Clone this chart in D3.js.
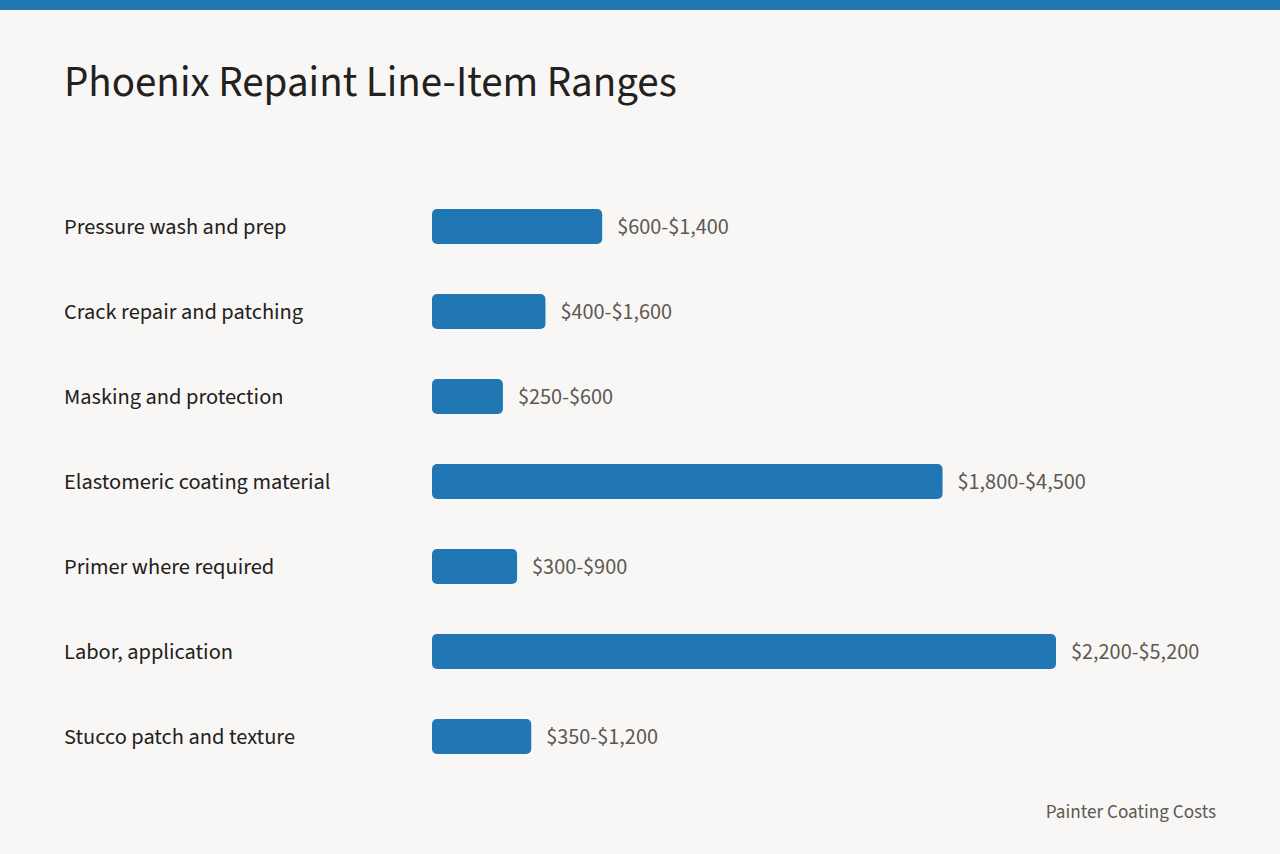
<!DOCTYPE html>
<html><head><meta charset="utf-8">
<script src="https://cdn.jsdelivr.net/npm/d3@7"></script>
<style>
html,body{margin:0;padding:0;background:#f8f7f5;}
svg{display:block;font-family:"Source Sans Pro","Source Sans 3",Lato,"Noto Sans",sans-serif;}
</style></head>
<body>
<svg id="chart" width="1280" height="854"></svg>
<script>
const categories = ["Pressure wash and prep","Crack repair and patching","Masking and protection","Elastomeric coating material","Primer where required","Labor, application","Stucco patch and texture"];
const lowValues = [600,400,250,1800,300,2200,350];
const highValues = [1400,1600,600,4500,900,5200,1200];
const title = "Phoenix Repaint Line-Item Ranges";
const source = "Painter Coating Costs";

const svg = d3.select("#chart");
svg.append("rect").attr("x",0).attr("y",0).attr("width",1280).attr("height",854).attr("fill","#f8f7f5");
svg.append("rect").attr("x",0).attr("y",0).attr("width",1280).attr("height",10).attr("fill","#2077b4");

svg.append("text").attr("x",64).attr("y",96).attr("font-size",43).attr("font-weight",400).attr("fill","#222120").text(title);

const data = categories.map((c,i)=>({cat:c,low:lowValues[i],high:highValues[i]}));
const fmt = d3.format(",");
const x = d3.scaleLinear().domain([0, d3.max(lowValues)]).range([432, 1056]);
const y = d3.scaleBand().domain(categories).range([184, 779]).paddingInner(0.588).paddingOuter(0.294);

const g = svg.append("g");
g.selectAll("text.cat").data(data).join("text").attr("class","cat")
  .attr("x",64).attr("y",d=>y(d.cat)+y.bandwidth()/2).attr("dy","0.35em")
  .attr("font-size",22.4).attr("fill","#222120").text(d=>d.cat);

g.selectAll("rect.bar").data(data).join("rect").attr("class","bar")
  .attr("x",x(0)).attr("y",d=>y(d.cat)).attr("width",d=>x(d.low)-x(0)).attr("height",y.bandwidth())
  .attr("rx",5).attr("fill","#2077b4");

g.selectAll("text.val").data(data).join("text").attr("class","val")
  .attr("x",d=>x(d.low)+15).attr("y",d=>y(d.cat)+y.bandwidth()/2).attr("dy","0.35em")
  .attr("font-size",22.2).attr("fill","#5c5853").text(d=>"$"+fmt(d.low)+"-$"+fmt(d.high));

svg.append("text").attr("x",1216).attr("y",818).attr("text-anchor","end").attr("font-size",19.2).attr("fill","#5c5853").text(source);
</script>
</body></html>
